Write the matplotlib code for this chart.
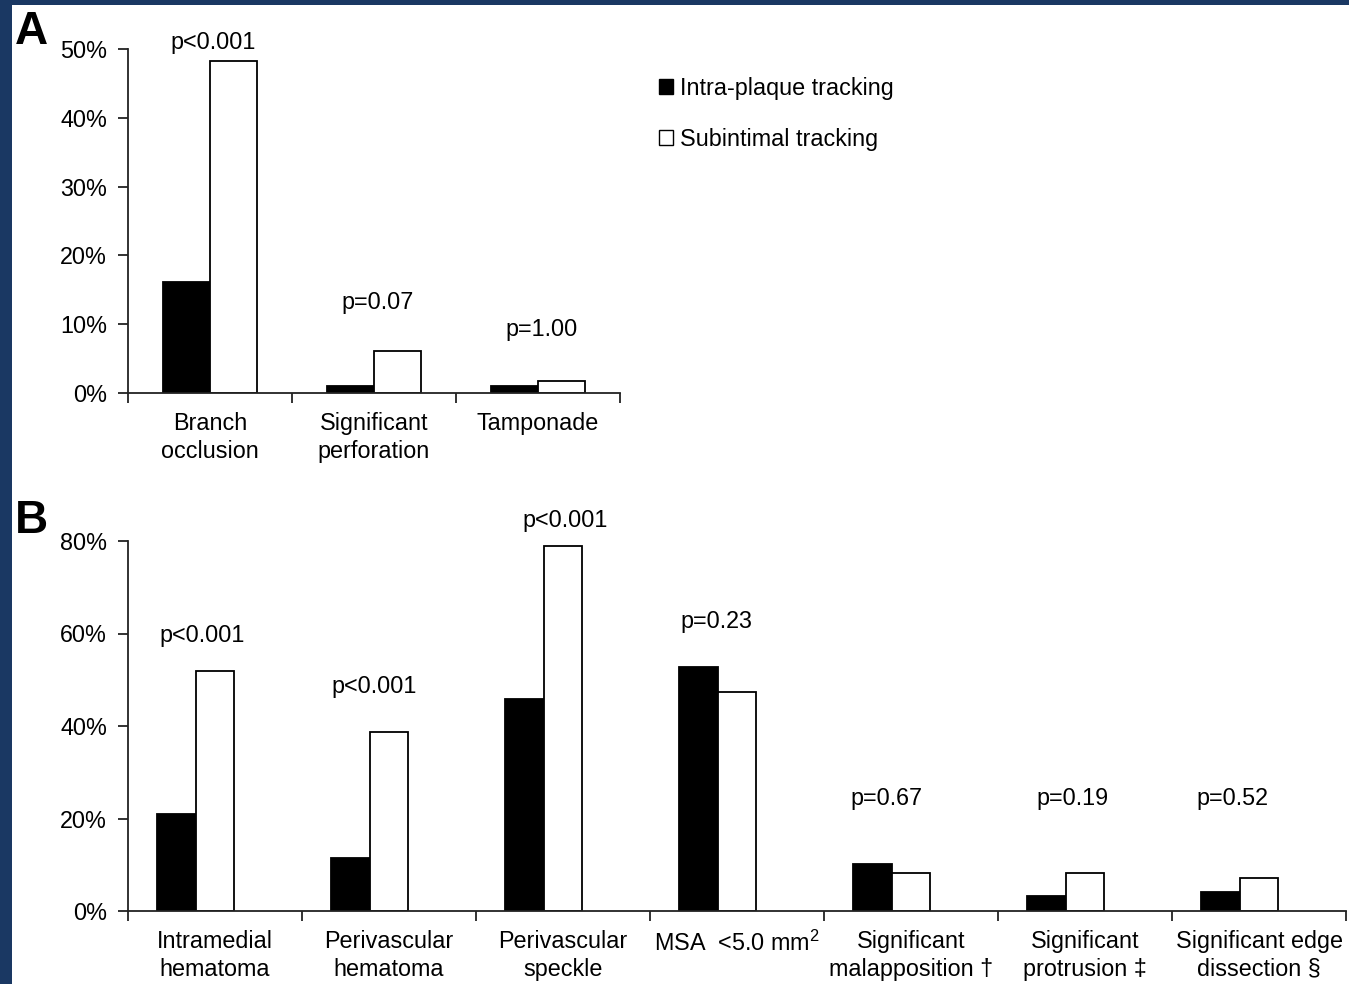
import numpy as np
import matplotlib
matplotlib.use('Agg')
import matplotlib.pyplot as plt
from matplotlib.patches import Rectangle, Patch

plt.rcParams['font.family'] = ['Liberation Sans', 'DejaVu Sans']
plt.rcParams['mathtext.fontset'] = 'custom'
plt.rcParams['mathtext.rm'] = 'Liberation Sans'

# panel A data
cats_a = ['Branch\nocclusion', 'Significant\nperforation', 'Tamponade']
intra_a = [16.2, 1.0, 1.0]
sub_a = [48.2, 6.1, 1.7]
pvals_a = ['p<0.001', 'p=0.07', 'p=1.00']

# panel B data
cats_b = ['Intramedial\nhematoma', 'Perivascular\nhematoma', 'Perivascular\nspeckle',
          'MSA  <5.0 mm$^2$', 'Significant\nmalapposition \u2020',
          'Significant\nprotrusion \u2021', 'Significant edge\ndissection \u00a7']
intra_b = [21.0, 11.5, 45.8, 52.8, 10.2, 3.2, 4.1]
sub_b = [51.9, 38.7, 78.9, 47.4, 8.2, 8.2, 7.1]
pvals_b = ['p<0.001', 'p<0.001', 'p<0.001', 'p=0.23', 'p=0.67', 'p=0.19', 'p=0.52']

navy = '#1a3863'
fs = 16.8

fig = plt.figure(figsize=(13.49, 9.84), dpi=100, facecolor=navy)
fig.patches.append(Rectangle((12 / 1349, 0), 1, 1 - 5 / 984, transform=fig.transFigure,
                             facecolor='white', edgecolor='none', zorder=-10))


def style_axis(ax, n, ymax, step):
    for s in ['top', 'right']:
        ax.spines[s].set_visible(False)
    for s in ['left', 'bottom']:
        ax.spines[s].set_linewidth(1.3)
        ax.spines[s].set_color('#222222')
    ax.set_xlim(-0.5, n - 0.5)
    ax.set_ylim(0, ymax)
    yt = np.arange(0, ymax + 1, step)
    ax.set_yticks(yt)
    ax.set_yticklabels(['%d%%' % v for v in yt], fontsize=fs)
    ax.set_xticks(np.arange(n + 1) - 0.5)
    ax.set_xticklabels([])
    ax.tick_params(axis='both', which='major', direction='out', length=7, width=1.3,
                   color='#222222', pad=8)
    ax.tick_params(axis='y', pad=8)
    ax.set_xticks(np.arange(n), minor=True)
    ax.tick_params(axis='x', which='minor', length=0, pad=14)
    ax.set_facecolor('none')


# ---- A ----
axa = fig.add_axes([128 / 1349, 591 / 984, 492 / 1349, 344 / 984])
w = 0.285
xa = np.arange(len(cats_a))
axa.bar(xa - w / 2, intra_a, w, color='black', edgecolor='black', linewidth=1.3)
axa.bar(xa + w / 2, sub_a, w, color='white', edgecolor='black', linewidth=1.3)
style_axis(axa, len(cats_a), 50, 10)
axa.set_xticklabels(cats_a, minor=True, fontsize=fs, linespacing=1.25)
pa_y = [51.0, 13.1, 9.3]
for i, (p, y) in enumerate(zip(pvals_a, pa_y)):
    axa.text(i + 0.02, y, p, ha='center', va='center', fontsize=fs, clip_on=False)

# ---- B ----
axb = fig.add_axes([128 / 1349, 73 / 984, 1218 / 1349, 370 / 984])
wb = 0.224
xb = np.arange(len(cats_b))
axb.bar(xb - wb, intra_b, wb, color='black', edgecolor='black', linewidth=1.3)
axb.bar(xb, sub_b, wb, color='white', edgecolor='black', linewidth=1.3)
style_axis(axb, len(cats_b), 80, 20)
axb.set_xticklabels(cats_b, minor=True, fontsize=fs, linespacing=1.25)
pb_x = [-0.075, -0.086, 0.01, -0.12, -0.14, -0.07, -0.155]
pb_y = [59.6, 48.6, 84.4, 62.6, 24.3, 24.3, 24.3]
for i, (p, dx, y) in enumerate(zip(pvals_b, pb_x, pb_y)):
    axb.text(i + dx, y, p, ha='center', va='center', fontsize=fs, clip_on=False)

# panel letters
fig.text(15 / 1349, 1 - 32 / 984, 'A', fontsize=33, fontweight='bold', va='center', ha='left')
fig.text(15 / 1349, 1 - 521 / 984, 'B', fontsize=33, fontweight='bold', va='center', ha='left')

# legend
handles = [Patch(facecolor='black', edgecolor='black', linewidth=1),
           Patch(facecolor='white', edgecolor='black', linewidth=1)]
fig.legend(handles, ['Intra-plaque tracking', 'Subintimal tracking'],
           loc='upper left', bbox_to_anchor=(659 / 1349, 1 - 77 / 984),
           frameon=False, fontsize=fs, handlelength=0.6, handleheight=0.6,
           handletextpad=0.3, labelspacing=1.2, borderaxespad=0, borderpad=0)

fig.savefig('out.png', dpi=100, facecolor=navy)
